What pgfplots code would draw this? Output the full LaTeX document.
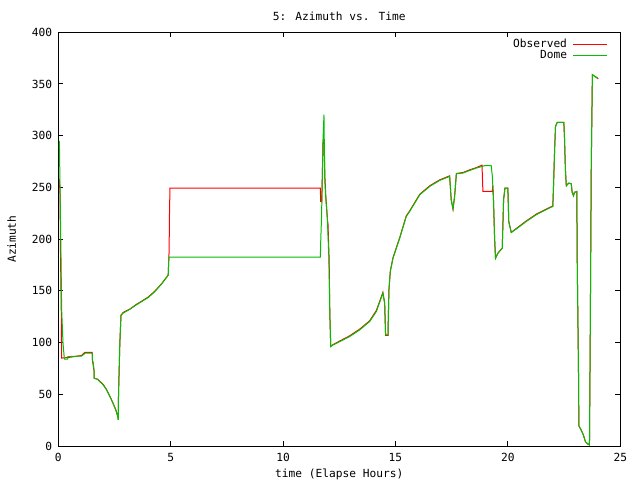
\documentclass[border=0pt]{standalone}
\usepackage{pgfplots}
\pgfplotsset{compat=1.18}
\usepackage{pgfplotstable}
\usepackage{fontspec}
\setmainfont{DejaVu Sans Mono}
\definecolor{gpred}{RGB}{255,0,0}
\definecolor{gpgreen}{RGB}{0,192,0}
\newcommand{\gpfont}{\fontsize{8.4}{10}\selectfont}

\pgfplotstableread{
t az
0.05 258
0.08 243
0.10 185
0.13 138
0.15 85
0.42 85.5
1.04 87.5
1.10 89
1.19 90.5
1.51 90.5
1.52 83
1.59 73
1.60 65.5
1.75 64.5
1.85 62.5
2.00 59.5
2.15 54.5
2.30 48
2.44 41
2.56 35
2.64 29
2.67 25.5
2.68 49
2.74 100
2.79 126
2.88 129
3.19 132.5
3.48 137
3.71 140
4.00 144
4.30 149.8
4.60 157
4.89 165.2
4.93 188
4.95 228.4
4.97 249.4
11.66 249.4
11.67 236.4
11.72 236
11.74 254
11.78 296
11.83 296
11.86 260.7
11.90 242
11.97 220
12.00 214
12.05 180
12.08 128
12.12 96.5
12.22 98
12.52 101.5
12.96 106.5
13.41 113
13.85 121
14.15 131
14.44 148.5
14.52 138
14.56 107
14.67 107
14.68 122
14.71 151
14.77 169
14.89 182
15.19 201.5
15.48 222.5
15.63 227.2
16.08 243.4
16.52 251.5
16.96 257.2
17.41 261.2
17.48 238
17.56 229
17.63 241
17.71 263.5
18.00 264.4
18.30 267
18.60 269.2
18.85 271.5
18.89 246.1
19.31 246.1
19.33 252
19.36 238.1
19.41 201
19.45 181.6
19.56 186.5
19.75 191.3
19.81 238.1
19.87 249.4
20.00 249.4
20.04 217.1
20.15 206.5
20.37 210.2
20.82 217.6
21.26 224.1
21.85 230.6
22.00 232
22.03 251
22.08 286.5
22.12 309.1
22.20 313
22.49 313
22.52 297.8
22.56 267.1
22.60 251.6
22.71 254.2
22.82 253.5
22.86 245.2
22.92 241.9
22.96 245.2
23.07 246.1
23.08 189
23.14 76.8
23.16 19.4
23.26 15.5
23.36 10.6
23.45 4.2
23.56 1.9
23.63 1
23.66 90.3
23.71 270.3
23.76 359
23.86 357.4
24.02 355
}\observed

\pgfplotstableread{
t az
0.05 295
0.12 185
0.15 132
0.21 100
0.27 84
0.42 84
0.43 86.4
1.04 87
1.10 88
1.19 89.7
1.51 89.7
1.52 83.2
1.56 80
1.59 72.9
1.60 65.5
1.75 64.5
1.85 62.2
2.00 59
2.15 54.2
2.30 47.7
2.44 41.3
2.56 34.8
2.64 29
2.67 25.2
2.68 49.4
2.74 100.3
2.79 126.5
2.88 128.4
3.19 132.3
3.48 136.5
3.71 139.7
4.00 143.5
4.30 149.3
4.60 156.8
4.89 165.2
4.92 182.6
11.66 182.6
11.67 194.5
11.71 220.3
11.74 254.2
11.78 297.8
11.82 320.3
11.85 260.7
11.89 242.9
11.97 220.3
12.04 180
12.08 128.4
12.12 96.1
12.22 97.7
12.52 100.9
12.96 105.8
13.41 112.3
13.85 120.3
14.15 130
14.44 147.8
14.52 138.1
14.56 107.4
14.67 107.4
14.68 121.9
14.71 151
14.77 168.7
14.89 181.6
15.19 201
15.48 221.9
15.63 226.7
16.08 242.9
16.52 250.9
16.96 256.7
17.41 260.6
17.48 238.1
17.56 229.1
17.63 241.3
17.71 263.2
18.00 263.9
18.30 266.4
18.60 268.7
18.96 271
19.26 271
19.31 260.6
19.36 238.1
19.41 201
19.45 181.6
19.56 186.5
19.75 191.3
19.81 238.1
19.87 249.4
20.00 249.4
20.04 217.1
20.15 206.5
20.37 209.7
20.82 217.1
21.26 223.6
21.85 230.1
22.00 231.6
22.03 251
22.08 286.5
22.12 309.1
22.20 313
22.49 313
22.52 297.8
22.56 267.1
22.60 251.6
22.71 254.2
22.82 253.5
22.86 245.2
22.92 241.9
22.96 245.2
23.07 246.1
23.08 189
23.14 76.8
23.16 19.4
23.26 15.5
23.36 10.6
23.45 4.2
23.56 1.9
23.63 1
23.66 90.3
23.71 270.3
23.76 359
23.86 357.4
24.00 355.8
}\dome

\begin{document}
\begin{tikzpicture}
\useasboundingbox (0pt,0pt) rectangle (480pt,360pt);
\begin{axis}[
  at={(43.7pt,25.5pt)}, anchor=south west,
  scale only axis,
  width=421.5pt, height=310.3pt,
  xmin=0, xmax=25, ymin=0, ymax=400,
  xtick={0,5,10,15,20,25},
  ytick={0,50,100,150,200,250,300,350,400},
  minor tick num=0,
  tick align=inside,
  major tick length=3.75pt,
  axis line style={line width=0.75pt},
  every tick/.style={line width=0.75pt, black},
  /pgf/number format/assume math mode=true,
  tick label style={font=\gpfont},
  xticklabel style={yshift=-2pt},
  yticklabel style={xshift=-1pt},
  title={5: Azimuth vs. Time},
  title style={font=\gpfont, anchor=center, at={(axis description cs:0.5,1)}, yshift=5.8pt},
  xlabel={time (Elapse Hours)},
  xlabel style={font=\gpfont, anchor=center, at={(axis description cs:0.5,0)}, yshift=-21.5pt},
  ylabel={Azimuth},
  ylabel style={font=\gpfont, anchor=center, at={(axis description cs:0,0.5)}, yshift=35pt},
  legend plot pos=right,
  legend cell align=right,
  legend style={draw=none, fill=none, font=\gpfont, at={(rel axis cs:1,1)}, anchor=north east,
    xshift=-9pt, yshift=-3pt, row sep=-3.7pt, inner sep=0pt,
    nodes={inner xsep=4.5pt}},
  legend image code/.code={\draw[#1] (0pt,0pt) -- (25.5pt,0pt);},
]
\addplot[gpred, line width=0.75pt] table[x=t, y=az] {\observed};
\addlegendentry{Observed}
\addplot[gpgreen, line width=0.75pt] table[x=t, y=az] {\dome};
\addlegendentry{Dome}
\end{axis}
\end{tikzpicture}
\end{document}
